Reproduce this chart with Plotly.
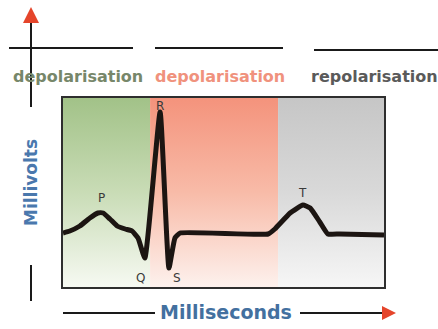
import plotly.graph_objects as go

# ---- data ----
time_ms = [0, 17, 42, 67, 87, 100, 117, 135, 155, 172, 187, 204, 242, 264, 279, 292,
           511, 528, 566, 598, 616, 640, 660, 690, 800]
millivolts = [0.0, 0.02, 0.07, 0.15, 0.20, 0.20, 0.14, 0.07, 0.04, 0.02, -0.05, -0.25,
              1.21, -0.35, -0.05, 0.0, -0.01, 0.04, 0.20, 0.28, 0.25, 0.11, -0.01, -0.01, -0.02]

phase_names = ["depolarisation", "depolarisation", "repolarisation"]
phase_bounds = [0, 217, 536, 800]

wave_labels = ["P", "Q", "R", "S", "T"]
wave_time = [97, 192, 242, 284, 598]
wave_mv = [0.35, -0.45, 1.27, -0.45, 0.40]

X_RANGE = [0, 800]
Y_RANGE = [-0.54, 1.35]

# ---- layout geometry (pixels) ----
W, H = 438, 329
L, R, T, B = 63, 384, 98, 287


def px(x):
    return (x - L) / (R - L)


def py(y):
    return (B - y) / (B - T)


phase_text_colors = ["#77876a", "#f0927d", "#5a5a5a"]
phase_scales = [
    [[0, "#f6f9f2"], [0.5, "#c9dcb6"], [1, "#a2c288"]],
    [[0, "#fdf1ed"], [0.5, "#f8bba8"], [1, "#f4937c"]],
    [[0, "#f6f6f6"], [0.5, "#d9d9d9"], [1, "#c6c6c6"]],
]

fig = go.Figure()

for i in range(3):
    x0, x1 = phase_bounds[i], phase_bounds[i + 1]
    fig.add_trace(go.Scatter(
        x=[x0, x1, x1, x0, x0],
        y=[Y_RANGE[0], Y_RANGE[0], Y_RANGE[1], Y_RANGE[1], Y_RANGE[0]],
        mode="lines", line=dict(width=0), fill="toself",
        fillgradient=dict(type="vertical", colorscale=phase_scales[i]),
        hoverinfo="skip", showlegend=False,
    ))

fig.add_trace(go.Scatter(
    x=time_ms, y=millivolts, mode="lines",
    line=dict(color="#1c1512", width=5, shape="spline", smoothing=0.4),
    showlegend=False,
))

annotations = []
for lab, tx, ty in zip(wave_labels, wave_time, wave_mv):
    annotations.append(dict(x=tx, y=ty, xref="x", yref="y", text=lab, showarrow=False,
                            font=dict(family="DejaVu Sans", size=12, color="#3a3a3a")))

# phase labels above the chart
phase_label_x = [78, 220, 374]
for name, cx, col in zip(phase_names, phase_label_x, phase_text_colors):
    annotations.append(dict(x=px(cx), y=py(77), xref="paper", yref="paper", text=name,
                            showarrow=False, xanchor="center", yanchor="middle",
                            font=dict(family="DejaVu Sans", size=16, color=col, weight="bold")))

annotations.append(dict(x=px(31), y=py(183), xref="paper", yref="paper", text="Millivolts",
                        showarrow=False, textangle=-90, xanchor="center", yanchor="middle",
                        font=dict(family="DejaVu Sans", size=17, color="#4a78ad", weight="bold")))
annotations.append(dict(x=px(226), y=py(312), xref="paper", yref="paper", text="Milliseconds",
                        showarrow=False, xanchor="center", yanchor="middle",
                        font=dict(family="DejaVu Sans", size=19, color="#43709f", weight="bold")))

shapes = []
line_style = dict(color="#1a1a1a", width=2)
# top rule segments
for x0, x1, yy in [(9, 133, 48), (155, 283, 48), (314, 440, 50)]:
    shapes.append(dict(type="line", xref="paper", yref="paper", x0=px(x0), x1=px(x1),
                       y0=py(yy), y1=py(yy), line=line_style))
# vertical axis line
for y0, y1 in [(20, 107), (265, 301)]:
    shapes.append(dict(type="line", xref="paper", yref="paper", x0=px(31), x1=px(31),
                       y0=py(y0), y1=py(y1), line=line_style))
# horizontal axis line
for x0, x1 in [(63, 155), (300, 386)]:
    shapes.append(dict(type="line", xref="paper", yref="paper", x0=px(x0), x1=px(x1),
                       y0=py(313), y1=py(313), line=line_style))
# arrow heads
up = f"M {px(31)},{py(7)} L {px(39)},{py(23)} L {px(23)},{py(23)} Z"
right = f"M {px(396)},{py(313)} L {px(382)},{py(306)} L {px(382)},{py(320)} Z"
for p in (up, right):
    shapes.append(dict(type="path", xref="paper", yref="paper", path=p,
                       fillcolor="#e5452b", line=dict(width=0)))

fig.update_layout(
    width=W, height=H,
    margin=dict(l=L, r=W - R, t=T, b=H - B, pad=0),
    paper_bgcolor="white", plot_bgcolor="white",
    xaxis=dict(range=X_RANGE, showticklabels=False, ticks="", showgrid=False, zeroline=False,
               showline=True, mirror=True, linecolor="#2e2e2e", linewidth=2),
    yaxis=dict(range=Y_RANGE, showticklabels=False, ticks="", showgrid=False, zeroline=False,
               showline=True, mirror=True, linecolor="#2e2e2e", linewidth=2),
    annotations=annotations, shapes=shapes, showlegend=False,
)

fig.write_html("out.html", config={"displayModeBar": False},
               post_script="document.body.style.margin='0';document.body.style.overflow='hidden';")
